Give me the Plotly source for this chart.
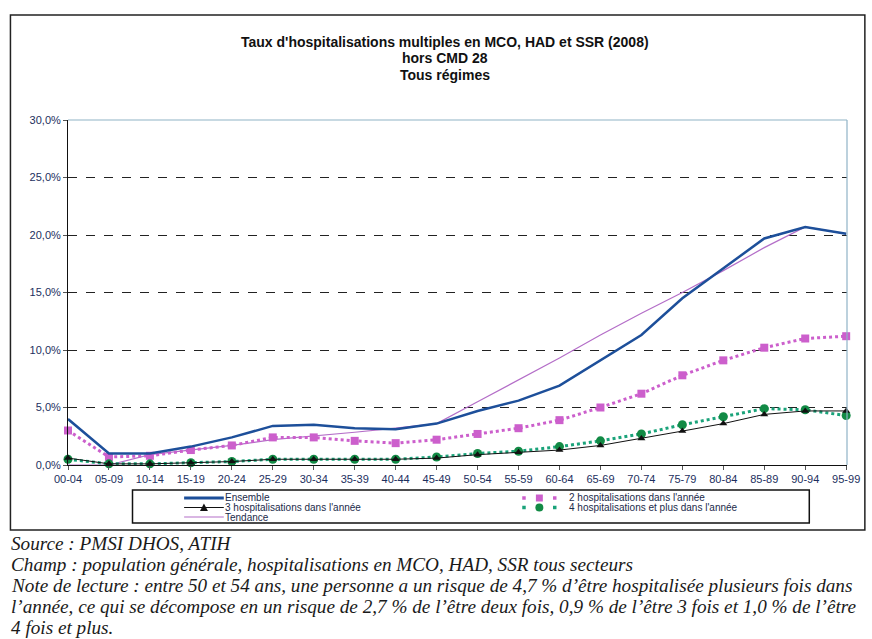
import plotly.graph_objects as go

categories = ["00-04", "05-09", "10-14", "15-19", "20-24", "25-29", "30-34", "35-39", "40-44", "45-49",
              "50-54", "55-59", "60-64", "65-69", "70-74", "75-79", "80-84", "85-89", "90-94", "95-99"]
ensemble = [4.0, 1.0, 1.0, 1.6, 2.4, 3.4, 3.5, 3.2, 3.1, 3.6, 4.7, 5.6, 6.9, 9.1, 11.3, 14.5, 17.1, 19.7, 20.7, 20.1]
hosp2 = [3.0, 0.7, 0.8, 1.3, 1.7, 2.4, 2.4, 2.1, 1.9, 2.2, 2.7, 3.2, 3.9, 5.0, 6.2, 7.8, 9.1, 10.2, 11.0, 11.2]
hosp3 = [0.6, 0.1, 0.1, 0.2, 0.3, 0.5, 0.5, 0.5, 0.5, 0.6, 0.9, 1.1, 1.3, 1.7, 2.3, 2.95, 3.6, 4.4, 4.7, 4.7]
hosp4 = [0.5, 0.1, 0.1, 0.2, 0.3, 0.5, 0.5, 0.5, 0.5, 0.7, 1.0, 1.2, 1.6, 2.1, 2.7, 3.5, 4.2, 4.9, 4.8, 4.3]
tendance = [0.0, 0.0, 0.9, 1.3, 1.7, 2.2, 2.5, 2.85, 3.2, 3.6, 5.5, 7.4, 9.3, 11.3, 13.2, 15.0, 16.9, 18.9, 20.7, 20.1]

y_tickvals = [0, 5, 10, 15, 20, 25, 30]
y_ticktext = ["0,0%", "5,0%", "10,0%", "15,0%", "20,0%", "25,0%", "30,0%"]

series_names = ["Ensemble", "2 hospitalisations dans l'année", "3 hospitalisations dans l'année",
                "4 hospitalisations et plus dans l'année", "Tendance"]

title_lines = ["Taux d'hospitalisations multiples en MCO, HAD et SSR (2008)", "hors CMD 28", "Tous régimes"]
notes = [
    "Source : PMSI DHOS, ATIH",
    "Champ : population générale, hospitalisations en MCO, HAD, SSR tous secteurs",
    "Note de lecture : entre 50 et 54 ans, une personne a un risque de 4,7 % d’être hospitalisée plusieurs fois dans",
    "l’année, ce qui se décompose en un risque de 2,7 % de l’être deux fois, 0,9 % de l’être 3 fois et 1,0 % de l’être",
    "4 fois et plus.",
]

C_ENS = "#1d4f9a"
C_H2 = "#cc5fcc"
C_H3 = "#111111"
C_H4L = "#1aa37a"
C_H4M = "#128a45"
C_TEN = "#b46ec8"

W, H = 872, 639
L, R, T, B = 68, 853, 120, 465


def px(x):
    return (x - L) / (R - L)


def py(y):
    return (B - y) / (B - T)


fig = go.Figure()
fig.add_trace(go.Scatter(x=categories, y=tendance, name=series_names[4], mode="lines",
                         line=dict(color=C_TEN, width=1.2), cliponaxis=False))
fig.add_trace(go.Scatter(x=categories, y=hosp2, name=series_names[1], mode="lines+markers",
                         line=dict(color=C_H2, width=3, dash="dot"),
                         marker=dict(symbol="square", size=8, color=C_H2), cliponaxis=False))
fig.add_trace(go.Scatter(x=categories, y=hosp4, name=series_names[3], mode="lines+markers",
                         line=dict(color=C_H4L, width=3, dash="dot"),
                         marker=dict(symbol="circle", size=9, color=C_H4M), cliponaxis=False))
fig.add_trace(go.Scatter(x=categories, y=hosp3, name=series_names[2], mode="lines+markers",
                         line=dict(color=C_H3, width=1),
                         marker=dict(symbol="triangle-up", size=7, color=C_H3), cliponaxis=False))
fig.add_trace(go.Scatter(x=categories, y=ensemble, name=series_names[0], mode="lines",
                         line=dict(color=C_ENS, width=2.5), cliponaxis=False))

tick_font = dict(family="Liberation Sans, Arial", size=11, color="#1c2f5e")

shapes = [
    dict(type="line", xref="paper", yref="paper", x0=0, x1=1, y0=1, y1=1,
         line=dict(color="#8fb3c6", width=1.2), layer="above"),
    dict(type="line", xref="paper", yref="paper", x0=1, x1=1, y0=0, y1=1,
         line=dict(color="#8fb3c6", width=1.2), layer="above"),
    # outer frame
    dict(type="rect", xref="paper", yref="paper", x0=px(10), x1=px(871), y0=py(530), y1=py(15),
         line=dict(color="#222222", width=1.5), layer="below"),
    # legend box
    dict(type="rect", xref="paper", yref="paper", x0=px(133), x1=px(815), y0=py(523), y1=py(490),
         line=dict(color="#111111", width=1.5), fillcolor="white", layer="above"),
]

annotations = []


def seg(x0, x1, y, color, width, dash="solid"):
    shapes.append(dict(type="line", xref="paper", yref="paper", x0=px(x0), x1=px(x1), y0=py(y), y1=py(y),
                       line=dict(color=color, width=width, dash=dash), layer="above"))


def square(cx, cy, s, color):
    shapes.append(dict(type="rect", xref="paper", yref="paper", x0=px(cx - s / 2), x1=px(cx + s / 2),
                       y0=py(cy + s / 2), y1=py(cy - s / 2), line=dict(width=0), fillcolor=color, layer="above"))


def circle(cx, cy, r, color):
    shapes.append(dict(type="circle", xref="paper", yref="paper", x0=px(cx - r), x1=px(cx + r),
                       y0=py(cy + r), y1=py(cy - r), line=dict(width=0), fillcolor=color, layer="above"))


def legend_text(x, y, text):
    annotations.append(dict(text=text, xref="paper", yref="paper", x=px(x), y=py(y), xanchor="left",
                            yanchor="middle", showarrow=False,
                            font=dict(family="Liberation Sans, Arial", size=10, color="#1a2a4a")))


# legend column 1
r1, r2, r3 = 498, 507.5, 517
seg(185, 225, r1, C_ENS, 3)
legend_text(224, r1, series_names[0])
seg(185, 225, r2, C_H3, 1)
shapes.append(dict(type="path", xref="paper", yref="paper",
                   path="M {} {} L {} {} L {} {} Z".format(px(201), py(r2 + 3.5), px(209), py(r2 + 3.5), px(205), py(r2 - 4)),
                   line=dict(width=0), fillcolor=C_H3, layer="above"))
legend_text(224, r2, series_names[2])
seg(185, 225, r3, C_TEN, 1.2)
legend_text(224, r3, series_names[4])
# legend column 2
square(527.5, r1, 3.5, C_H2)
square(543, r1, 7, C_H2)
square(558.5, r1, 3.5, C_H2)
legend_text(571, r1, series_names[1])
square(527.5, r2, 3.5, C_H4L)
circle(543, r2, 4, C_H4M)
square(558.5, r2, 3.5, C_H4L)
legend_text(571, r2, series_names[3])

title_y = [42, 58.5, 75]
for line, yy in zip(title_lines, title_y):
    annotations.append(dict(text="<b>" + line + "</b>", xref="paper", yref="paper",
                            x=px(447.5), y=py(yy), xanchor="center", yanchor="middle",
                            showarrow=False, font=dict(family="Liberation Sans, Arial", size=14, color="#111111")))
note_y = [543, 564, 585, 606, 627]
for line, yy in zip(notes, note_y):
    annotations.append(dict(text="<i>" + line + "</i>", xref="paper", yref="paper",
                            x=px(9), y=py(yy), xanchor="left", yanchor="middle",
                            showarrow=False,
                            font=dict(family="Liberation Serif, Times New Roman", size=19.2, color="#1a1a1a")))

fig.update_layout(
    width=W, height=H,
    margin=dict(l=L, r=W - R, t=T, b=H - B),
    paper_bgcolor="white", plot_bgcolor="white",
    showlegend=False,
    xaxis=dict(type="category", range=[0, 19.02], showgrid=False, showline=True,
               linecolor="#111111", linewidth=1, ticks="outside", ticklen=4, tickcolor="#555555",
               tickfont=tick_font, tickangle=0, zeroline=False),
    yaxis=dict(range=[0, 30], tickvals=y_tickvals, ticktext=y_ticktext,
               showgrid=True, gridcolor="#222222", griddash="dash", gridwidth=1,
               showline=True, linecolor="#111111", linewidth=1, ticks="outside", ticklen=4,
               tickcolor="#555555", tickfont=tick_font, zeroline=False),
    shapes=shapes,
    annotations=annotations,
)

fig.write_html("out.html", config={"displayModeBar": False},
               post_script="document.body.style.margin='0px';")
